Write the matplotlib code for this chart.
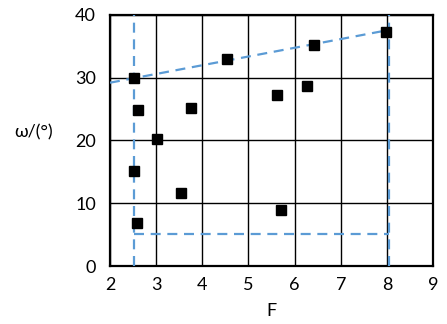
import numpy as np
import matplotlib
matplotlib.use("Agg")
from matplotlib import pyplot as plt

# scatter data
F_vals = [2.52, 2.61, 3.01, 2.52, 3.54, 2.58, 3.75, 4.54, 5.62, 5.71, 6.26, 6.43, 7.97]
omega_vals = [29.9, 24.8, 20.2, 15.1, 11.6, 6.9, 25.2, 33.0, 27.2, 8.9, 28.6, 35.2, 37.2]

# dashed guide lines
x_left, x_right = 2.52, 8.04
y_low = 5.15
slope_x = [2.0, 8.04]
slope_y = [29.2, 37.6]

xticks = [2, 3, 4, 5, 6, 7, 8, 9]
yticks = [0, 10, 20, 30, 40]

def main():
    plt.rcParams['font.family'] = ['Lato', 'DejaVu Sans']
    fig = plt.figure(figsize=(4.47, 3.24), dpi=100)
    ax = fig.add_axes([0.246, 0.179, 0.723, 0.775])

    ax.set_xlim(2, 9)
    ax.set_ylim(0, 40)
    ax.set_xticks(xticks)
    ax.set_yticks(yticks)
    ax.grid(True, color="black", lw=1.0)
    ax.set_axisbelow(True)
    for s in ax.spines.values():
        s.set_linewidth(1.6)
    ax.tick_params(length=0, labelsize=13)
    ax.tick_params(axis="x", pad=8)
    ax.tick_params(axis="y", pad=10)

    blue = "#5b9bd5"
    dash = dict(color=blue, lw=1.6, ls=(0, (4.5, 3)), zorder=3)
    ax.plot([x_left, x_left], [0, 40], **dash)
    ax.plot([x_right, x_right], [0, 40], **dash)
    ax.plot([x_left, x_right], [y_low, y_low], **dash)
    ax.plot(slope_x, slope_y, **dash)

    ax.plot(F_vals, omega_vals, "s", color="black", ms=6.5, zorder=4, clip_on=False)

    ax.set_xlabel("F", fontsize=13, labelpad=7)
    ax.set_ylabel("ω/(°)", fontsize=13, rotation=0, labelpad=0)
    ax.yaxis.set_label_coords(-0.235, 0.5)

    fig.savefig("out.png", dpi=100)

if __name__ == "__main__":
    main()
